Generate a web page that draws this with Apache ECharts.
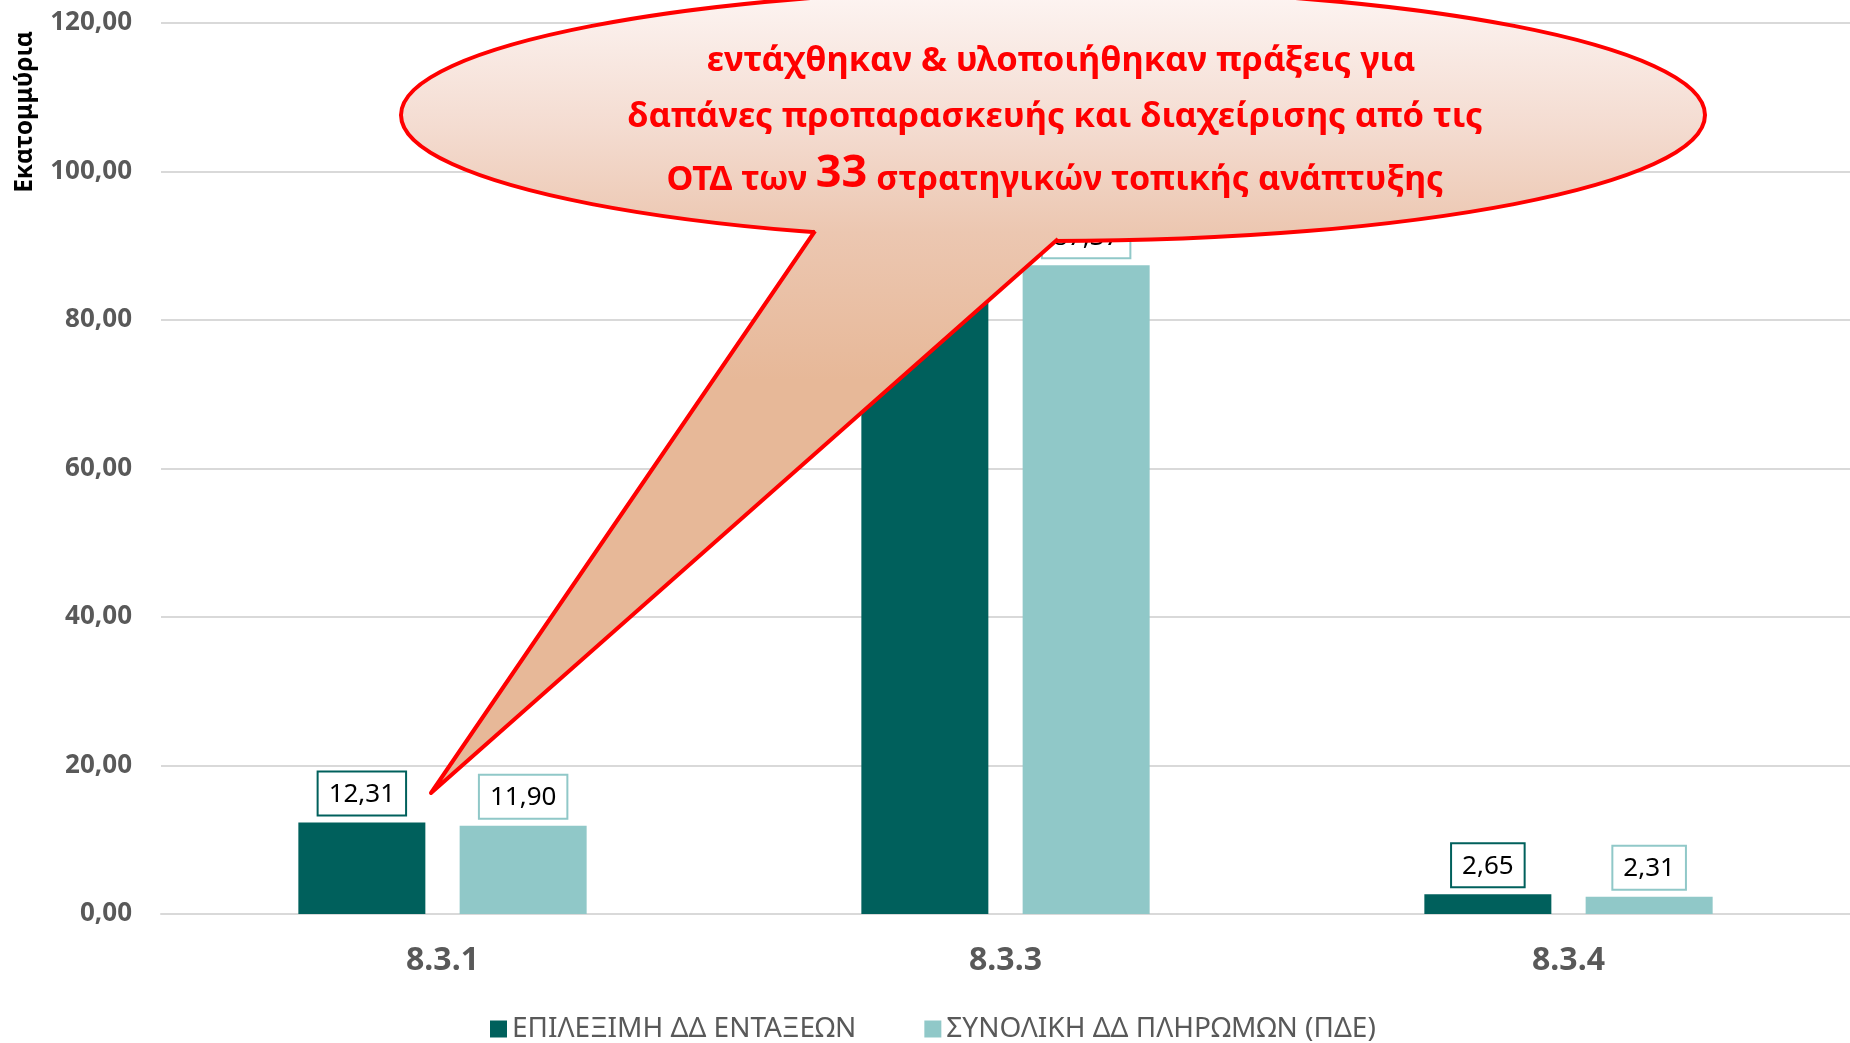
<!DOCTYPE html>
<html>
<head>
<meta charset="utf-8">
<script src="https://cdn.jsdelivr.net/npm/echarts@6/dist/echarts.min.js"></script>
<style>
  html, body { margin: 0; padding: 0; background: #fff; }
  #bars { width: 1850px; height: 1043px; }
</style>
</head>
<body>
<div id="bars"></div>
<script>
// δεδομένα
const categories = ['8.3.1', '8.3.3', '8.3.4'];
const seriesNames = ['ΕΠΙΛΕΞΙΜΗ ΔΔ ΕΝΤΑΞΕΩΝ', 'ΣΥΝΟΛΙΚΗ ΔΔ ΠΛΗΡΩΜΩΝ (ΠΔΕ)'];
const eligibleValues = [12.31, 90.52, 2.65];
const paymentValues = [11.90, 87.37, 2.31];
const yMin = 0;
const yMax = 120;
const yStep = 20;
const calloutLines = [
  'εντάχθηκαν & υλοποιήθηκαν πράξεις για',
  'δαπάνες προπαρασκευής και διαχείρισης από τις'
];

const darkTeal = '#00605c';
const lightTeal = '#90c8c8';
const font = '"Noto Sans", "DejaVu Sans", sans-serif';

const chart = echarts.init(document.getElementById('bars'));

function fmt (v) {
  return Number(v).toFixed(2).replace('.', ',');
}

function barLabel (border) {
  return {
    show: true,
    position: 'top',
    distance: 8,
    formatter: p => fmt(p.value),
    color: '#000',
    fontSize: 26,
    fontFamily: font,
    backgroundColor: '#fff',
    borderColor: border,
    borderWidth: 2,
    padding: [9, 10, 7, 10]
  };
}

// ίδια διαβάθμιση για έλλειψη και ουρά
const calloutFill = {
  type: 'linear', x: 0, y: -11, x2: 0, y2: 380, global: true,
  colorStops: [
    { offset: 0, color: '#fdf5f3' },
    { offset: 0.35, color: '#f4dcd1' },
    { offset: 0.62, color: '#ecc7b1' },
    { offset: 1, color: '#e7b898' }
  ]
};

const option = {
  backgroundColor: '#fff',
  animation: false,
  grid: { left: 161, right: 0, top: 23, bottom: 129 },
  legend: {
    data: seriesNames,
    top: 1006,
    left: 485,
    icon: 'rect',
    itemWidth: 17,
    itemHeight: 17,
    itemGap: 68,
    textStyle: { color: '#595959', fontSize: 28, fontFamily: font, lineHeight: 36 }
  },
  xAxis: {
    type: 'category',
    data: categories,
    axisLine: { show: true, lineStyle: { color: '#d9d9d9', width: 2 } },
    axisTick: { show: false },
    axisLabel: { color: '#595959', fontSize: 32, fontWeight: 'bold', fontFamily: font, margin: 31 }
  },
  yAxis: {
    type: 'value',
    min: yMin,
    max: yMax,
    interval: yStep,
    axisLine: { show: false },
    axisTick: { show: false },
    splitLine: { lineStyle: { color: '#d9d9d9', width: 2 } },
    axisLabel: {
      formatter: v => fmt(v),
      color: '#595959', fontSize: 26, fontWeight: 'bold', fontFamily: font, margin: 29
    }
  },
  series: [{
    name: seriesNames[0],
    type: 'bar',
    data: eligibleValues,
    barWidth: 127,
    barGap: '27%',
    itemStyle: { color: darkTeal },
    label: barLabel(darkTeal)
  }, {
    name: seriesNames[1],
    type: 'bar',
    data: paymentValues,
    barWidth: 127,
    barGap: '27%',
    itemStyle: { color: lightTeal },
    label: barLabel(lightTeal)
  }],
  graphic: [{
    type: 'text',
    x: 25, y: 112,
    rotation: Math.PI / 2,
    style: {
      text: 'Εκατομμύρια', fill: '#000', fontSize: 24.5, fontWeight: 'bold', fontFamily: font,
      align: 'center', verticalAlign: 'middle'
    }
  }, {
    type: 'ellipse',
    z: 100,
    shape: { cx: 1053, cy: 115, rx: 652, ry: 126 },
    style: { fill: calloutFill, stroke: '#ff0000', lineWidth: 4 }
  }, {
    type: 'polygon',
    z: 101,
    shape: { points: [[815, 205], [815, 231], [431, 793], [1058, 239], [1058, 205]] },
    style: { fill: calloutFill }
  }, {
    type: 'polyline',
    z: 102,
    shape: { points: [[815, 231], [431, 793], [1058, 239]] },
    style: { stroke: '#ff0000', lineWidth: 4, lineJoin: 'round', fill: null }
  }, {
    type: 'text',
    z: 103,
    x: 1061, y: 61,
    style: {
      text: calloutLines[0], fill: '#ff0000', fontSize: 34.5, fontWeight: 'bold', fontFamily: font,
      align: 'center', verticalAlign: 'middle'
    }
  }, {
    type: 'text',
    z: 103,
    x: 1055, y: 117,
    style: {
      text: calloutLines[1], fill: '#ff0000', fontSize: 34.5, fontWeight: 'bold', fontFamily: font,
      align: 'center', verticalAlign: 'middle'
    }
  }, {
    type: 'text',
    z: 103,
    x: 1055, y: 172,
    style: {
      text: '{s|ΟΤΔ των }{big|33}{s| στρατηγικών τοπικής ανάπτυξης}',
      fill: '#ff0000', fontSize: 34, fontWeight: 'bold', fontFamily: font,
      align: 'center', verticalAlign: 'middle',
      rich: {
        s: { fill: '#ff0000', fontSize: 34, fontWeight: 'bold', fontFamily: font, verticalAlign: 'bottom', lineHeight: 50 },
        big: { fill: '#ff0000', fontSize: 45, fontWeight: 'bold', fontFamily: font, verticalAlign: 'bottom', lineHeight: 50 }
      }
    }
  }]
};

chart.setOption(option);
</script>
</body>
</html>
